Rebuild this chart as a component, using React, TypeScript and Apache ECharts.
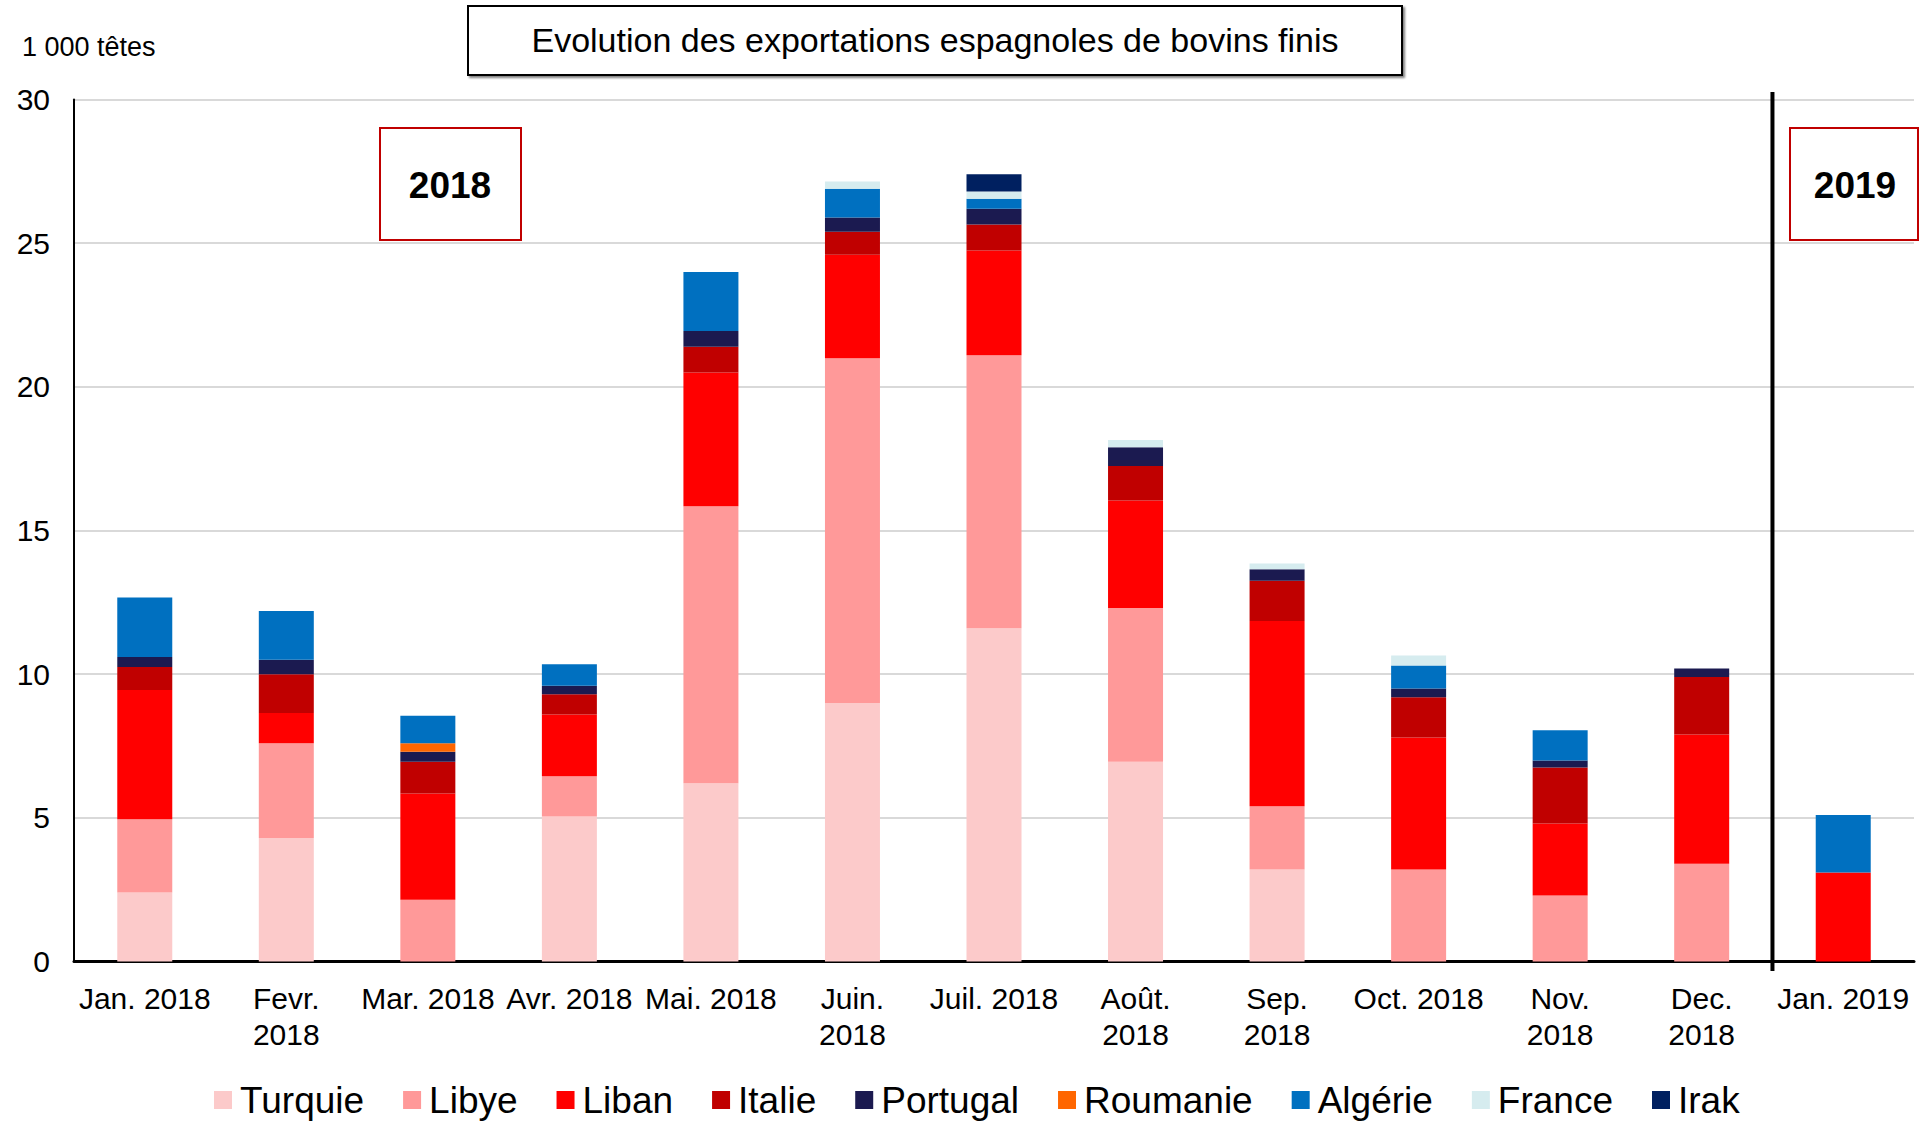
import React, { useEffect, useRef } from "react";
import * as echarts from "echarts";

const categories = [
  "Jan. 2018", "Fevr.\n2018", "Mar. 2018", "Avr. 2018", "Mai. 2018", "Juin.\n2018",
  "Juil. 2018", "Août.\n2018", "Sep.\n2018", "Oct. 2018", "Nov.\n2018", "Dec.\n2018", "Jan. 2019",
];
const turquie = [2.4, 4.3, 0, 5.05, 6.2, 9.0, 11.6, 6.95, 3.2, 0, 0, 0, 0];
const libye = [2.55, 3.3, 2.15, 1.4, 9.65, 12.0, 9.5, 5.35, 2.2, 3.2, 2.3, 3.4, 0];
const liban = [4.5, 1.05, 3.7, 2.15, 4.65, 3.6, 3.65, 3.75, 6.45, 4.6, 2.5, 4.5, 3.1];
const italie = [0.8, 1.35, 1.1, 0.7, 0.9, 0.8, 0.9, 1.2, 1.4, 1.4, 1.95, 2.0, 0];
const portugal = [0.35, 0.5, 0.35, 0.3, 0.55, 0.5, 0.55, 0.65, 0.4, 0.3, 0.25, 0.3, 0];
const roumanie = [0, 0, 0.3, 0, 0, 0, 0, 0, 0, 0, 0, 0, 0];
const algerie = [2.07, 1.7, 0.95, 0.75, 2.05, 1.0, 0.35, 0, 0, 0.8, 1.05, 0, 2.0];
const france = [0, 0, 0, 0, 0, 0.25, 0.25, 0.25, 0.2, 0.35, 0, 0, 0];
const irak = [0, 0, 0, 0, 0, 0, 0.6, 0, 0, 0, 0, 0, 0];

const seriesNames = ["Turquie", "Libye", "Liban", "Italie", "Portugal", "Roumanie", "Algérie", "France", "Irak"];
const seriesData = [turquie, libye, liban, italie, portugal, roumanie, algerie, france, irak];
const seriesColors = ["#FCCACA", "#FF9999", "#FF0000", "#C00000", "#1B1A50", "#FF6600", "#0070C0", "#D6ECEF", "#002060"];

const yTicks = { min: 0, max: 30, interval: 5 };

const FONT = "'Liberation Sans', Arial, sans-serif";

export default function App() {
  const ref = useRef<HTMLDivElement>(null);
  useEffect(() => {
    document.body.style.margin = "0";
    const chart = echarts.init(ref.current!, null, { renderer: "svg" });
    const option: any = {
      animation: false,
      backgroundColor: "#ffffff",
      textStyle: { fontFamily: FONT, color: "#000" },
      grid: { left: 74, right: 14, top: 99.6, bottom: 161.5, containLabel: false },
      legend: {
        data: seriesNames,
        left: 214,
        top: 1080,
        itemWidth: 18,
        itemHeight: 18,
        itemGap: 39,
        icon: "rect",
        padding: 0,
        textStyle: { fontSize: 37, lineHeight: 40, color: "#000", fontFamily: FONT, padding: [0, 0, 0, 3] },
      },
      xAxis: {
        type: "category",
        data: categories,
        axisLine: { lineStyle: { color: "#000", width: 3 } },
        axisTick: { show: false },
        axisLabel: { fontSize: 30, color: "#000", lineHeight: 36, margin: 19, interval: 0, fontFamily: FONT },
      },
      yAxis: {
        type: "value",
        min: yTicks.min,
        max: yTicks.max,
        interval: yTicks.interval,
        axisLine: { show: true, lineStyle: { color: "#000", width: 2 } },
        axisTick: { show: false },
        axisLabel: { fontSize: 30, color: "#000", margin: 24, fontFamily: FONT },
        splitLine: { lineStyle: { color: "#d9d9d9", width: 2 } },
      },
      series: seriesNames.map((name, i) => ({
        name,
        type: "bar",
        stack: "total",
        barWidth: 55,
        data: seriesData[i],
        itemStyle: { color: seriesColors[i] },
      })),
    };
    chart.setOption(option);

    const p11 = chart.convertToPixel({ xAxisIndex: 0 }, 11) as number;
    const p12 = chart.convertToPixel({ xAxisIndex: 0 }, 12) as number;
    const sepX = (p11 + p12) / 2;

    chart.setOption({
      graphic: [
        {
          type: "line",
          shape: { x1: sepX, y1: 92, x2: sepX, y2: 971 },
          style: { stroke: "#000", lineWidth: 4 },
          z: 100,
        },
        {
          type: "rect",
          shape: { x: 468, y: 6, width: 934, height: 69 },
          style: { fill: "#fff", stroke: "#000", lineWidth: 2, shadowColor: "rgba(0,0,0,0.5)", shadowOffsetX: 2, shadowOffsetY: 2, shadowBlur: 2 },
        },
        {
          type: "text",
          x: 935,
          y: 40,
          style: {
            text: "Evolution des exportations espagnoles de bovins finis",
            fontSize: 34,
            fontFamily: FONT,
            fill: "#000",
            align: "center",
            verticalAlign: "middle",
          },
        },
        {
          type: "text",
          x: 22,
          y: 47,
          style: {
            text: "1 000 têtes",
            fontSize: 27,
            fontFamily: FONT,
            fill: "#000",
            align: "left",
            verticalAlign: "middle",
          },
        },
        {
          type: "rect",
          shape: { x: 380, y: 128, width: 141, height: 112 },
          style: { fill: "#fff", stroke: "#C00000", lineWidth: 2 },
        },
        {
          type: "text",
          x: 450,
          y: 185,
          style: {
            text: "2018",
            fontSize: 37,
            fontWeight: "bold",
            fontFamily: FONT,
            fill: "#000",
            align: "center",
            verticalAlign: "middle",
          },
        },
        {
          type: "rect",
          shape: { x: 1790, y: 128, width: 128, height: 112 },
          style: { fill: "#fff", stroke: "#C00000", lineWidth: 2 },
        },
        {
          type: "text",
          x: 1855,
          y: 185,
          style: {
            text: "2019",
            fontSize: 37,
            fontWeight: "bold",
            fontFamily: FONT,
            fill: "#000",
            align: "center",
            verticalAlign: "middle",
          },
        },
      ],
    });

    return () => chart.dispose();
  }, []);
  return <div ref={ref} style={{ width: 1928, height: 1123 }} />;
}
